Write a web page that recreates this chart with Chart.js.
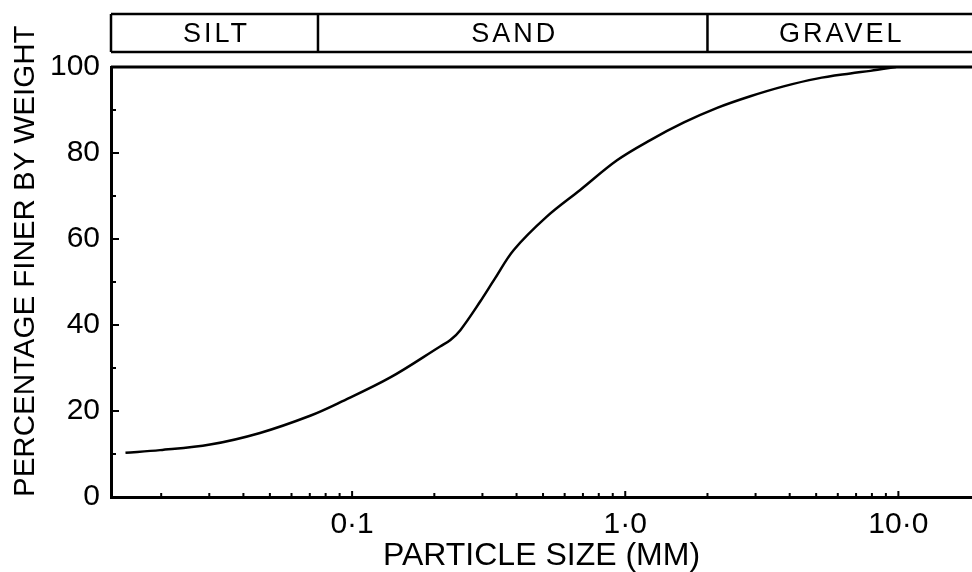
<!DOCTYPE html>
<html>
<head>
<meta charset="utf-8">
<script src="https://cdn.jsdelivr.net/npm/chart.js@4.4.1/dist/chart.umd.min.js"></script>
<style>
html, body { margin: 0; padding: 0; background: #fff; }
#wrap { width: 972px; height: 572px; position: relative; }
</style>
</head>
<body>
<div id="wrap"><canvas id="grading"></canvas></div>
<script>
// grading curve
const particleSize = [0.0148, 0.0198, 0.0302, 0.046, 0.0702, 0.0903, 0.138, 0.210, 0.229, 0.249, 0.294, 0.334, 0.390, 0.516, 0.684, 0.933, 1.236, 1.64, 2.17, 2.87, 3.80, 5.03, 6.67, 7.9, 9.8];
const percentFiner = [10.3, 10.9, 12.2, 14.9, 18.9, 22.0, 27.8, 35.0, 36.5, 38.8, 45.4, 50.9, 57.4, 65.2, 71.4, 78.3, 83.0, 87.1, 90.5, 93.2, 95.5, 97.3, 98.5, 99.1, 100];

// axis
const xRange = [0.0131, 18.6];
const xTickValues = [0.1, 1, 10];
const xTickLabels = ['0·1', '1·0', '10·0'];
const xMinorTicks = [0.02, 0.03, 0.04, 0.05, 0.06, 0.07, 0.08, 0.09, 0.2, 0.3, 0.4, 0.5, 0.6, 0.7, 0.8, 0.9, 2, 3, 4, 5, 6, 7, 8, 9];
const yMajorTicks = [20, 40, 60, 80];
const yMinorTicks = [10, 30, 50, 70, 90];

// soil classes band on top
const soilClasses = ['SILT', 'SAND', 'GRAVEL'];
const soilBounds = [0.075, 2.0];

const FONT = "'Liberation Sans', Arial, sans-serif";

const extras = {
  id: 'extras',
  afterDraw(chart) {
    const ctx = chart.ctx;
    const a = chart.chartArea;
    const x = chart.scales.x, y = chart.scales.y;
    ctx.save();
    ctx.strokeStyle = '#000';
    ctx.lineCap = 'butt';

    // line along 100 %
    ctx.lineWidth = 3;
    const yTop = y.getPixelForValue(100);
    ctx.beginPath();
    ctx.moveTo(a.left, yTop);
    ctx.lineTo(chart.width, yTop);
    ctx.stroke();

    // ticks drawn inside the plot
    ctx.lineWidth = 2;
    ctx.beginPath();
    yMajorTicks.forEach(v => {
      const p = y.getPixelForValue(v);
      ctx.moveTo(a.left, p); ctx.lineTo(a.left + 8, p);
    });
    yMinorTicks.forEach(v => {
      const p = y.getPixelForValue(v);
      ctx.moveTo(a.left, p); ctx.lineTo(a.left + 5, p);
    });
    xTickValues.forEach(v => {
      const p = x.getPixelForValue(v);
      ctx.moveTo(p, a.bottom); ctx.lineTo(p, a.bottom - 6);
    });
    xMinorTicks.forEach(v => {
      const p = x.getPixelForValue(v);
      ctx.moveTo(p, a.bottom); ctx.lineTo(p, a.bottom - 4);
    });
    ctx.stroke();

    // SILT / SAND / GRAVEL box
    const bTop = 14, bBot = 52;
    const edges = [a.left].concat(soilBounds.map(v => x.getPixelForValue(v)), [chart.width]);
    ctx.lineWidth = 2.5;
    ctx.beginPath();
    ctx.moveTo(a.left, bTop); ctx.lineTo(chart.width, bTop);
    ctx.moveTo(a.left, bBot); ctx.lineTo(chart.width, bBot);
    edges.slice(0, -1).forEach(e => { ctx.moveTo(e, bTop); ctx.lineTo(e, bBot); });
    ctx.stroke();

    ctx.fillStyle = '#000';
    ctx.font = '27px ' + FONT;
    ctx.letterSpacing = '3px';
    ctx.textAlign = 'center';
    ctx.textBaseline = 'middle';
    soilClasses.forEach((s, i) => {
      ctx.fillText(s, (edges[i] + edges[i + 1]) / 2 + 2, (bTop + bBot) / 2 + 2);
    });
    ctx.restore();
  }
};

new Chart(document.getElementById('grading'), {
  type: 'line',
  data: {
    datasets: [{
      data: particleSize.map((s, i) => ({ x: s, y: percentFiner[i] })),
      borderColor: '#000',
      borderWidth: 2.5,
      pointRadius: 0,
      fill: false,
      tension: 0.35
    }]
  },
  options: {
    responsive: true,
    maintainAspectRatio: false,
    devicePixelRatio: 1,
    animation: false,
    layout: { padding: { top: 67, left: 0, right: 0, bottom: 0 } },
    plugins: { legend: { display: false }, tooltip: { enabled: false } },
    scales: {
      x: {
        type: 'logarithmic',
        min: xRange[0],
        max: xRange[1],
        afterBuildTicks: s => { s.ticks = xTickValues.map(v => ({ value: v })); },
        afterFit: s => { s.height = 75; },
        grid: { display: false, drawTicks: false },
        border: { display: true, color: '#000', width: 3 },
        ticks: {
          color: '#000',
          font: { family: FONT, size: 30 },
          padding: 10,
          maxRotation: 0,
          autoSkip: false,
          callback: (v, i) => xTickLabels[i]
        },
        title: {
          display: true,
          text: 'PARTICLE SIZE (MM)',
          color: '#000',
          font: { family: FONT, size: 32, lineHeight: 1 },
          padding: { top: 0, bottom: 0 }
        }
      },
      y: {
        min: 0,
        max: 100,
        afterFit: s => { s.width = 111; },
        grid: { display: false, drawTicks: false },
        border: { display: true, color: '#000', width: 3 },
        ticks: {
          stepSize: 20,
          color: '#000',
          font: { family: FONT, size: 30 },
          padding: 11
        },
        title: {
          display: true,
          text: 'PERCENTAGE FINER BY WEIGHT',
          align: 'start',
          color: '#000',
          font: { family: FONT, size: 29.5 },
          padding: { top: 8, bottom: 0 }
        }
      }
    }
  },
  plugins: [extras]
});
</script>
</body>
</html>
